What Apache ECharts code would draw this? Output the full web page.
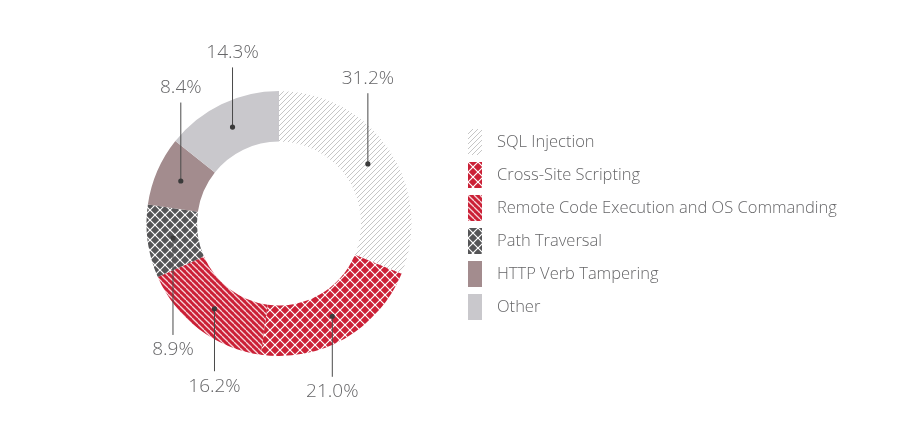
<!DOCTYPE html>
<html>
<head>
<meta charset="utf-8">
<script src="https://cdn.jsdelivr.net/npm/echarts@6/dist/echarts.min.js"></script>
<style>
  html, body { margin: 0; padding: 0; background: #fff; }
  #chart { width: 911px; height: 426px; }
</style>
</head>
<body>
<div id="chart"></div>
<script>
// data
var categories = ['SQL Injection', 'Cross-Site Scripting', 'Remote Code Execution and OS Commanding',
  'Path Traversal', 'HTTP Verb Tampering', 'Other'];
var shares = [31.2, 21.0, 16.2, 8.9, 8.4, 14.3];

// ring geometry (px)
var CX = 279, CY = 223.5, R0 = 82, R1 = 132.5, RM = 107;

// small tiled fills for the hatched slices
function hatch(bg, fg, size, lw, dirs) {
  var c = document.createElement('canvas');
  c.width = c.height = size;
  var ctx = c.getContext('2d');
  ctx.fillStyle = bg;
  ctx.fillRect(0, 0, size, size);
  ctx.strokeStyle = fg;
  ctx.lineWidth = lw;
  dirs.forEach(function (d) {
    [-size, 0, size].forEach(function (o) {
      ctx.beginPath();
      if (d === '/') { ctx.moveTo(o, size); ctx.lineTo(o + size, 0); }
      else { ctx.moveTo(o, 0); ctx.lineTo(o + size, size); }
      ctx.stroke();
    });
  });
  return { image: c, repeat: 'repeat' };
}

var red = '#cb2036';
var fills = [
  hatch('#ffffff', '#c6c6c6', 5, 1, ['/']),
  hatch(red, '#ffffff', 10, 1.2, ['/', '\\']),
  hatch(red, '#f6d3d8', 6, 1.3, ['\\']),
  hatch('#555557', '#ffffff', 10, 1.2, ['/', '\\']),
  '#a38c8e',
  '#c9c8cc'
];

// mid point of every slice, in percent clockwise from 12 o'clock
var total = shares.reduce(function (a, b) { return a + b; }, 0);
var mids = [];
var acc = 0;
shares.forEach(function (v) {
  mids.push((acc + v / 2) / total * 100);
  acc += v;
});

var chart = echarts.init(document.getElementById('chart'));

var labelFont = '300 19px "Open Sans"';

var option = {
  animation: false,
  polar: { center: [CX, CY], radius: R1 },
  angleAxis: {
    type: 'value', min: 0, max: 100, startAngle: 90, clockwise: true,
    show: false, splitLine: { show: false }
  },
  radiusAxis: { type: 'value', min: 0, max: R1, show: false, splitLine: { show: false } },
  legend: {
    orient: 'vertical',
    left: 463,
    top: 124,
    icon: 'rect',
    itemWidth: 14,
    itemHeight: 26,
    itemGap: 7,
    selectedMode: false,
    data: categories,
    textStyle: {
      fontFamily: 'Open Sans',
      fontWeight: 300,
      fontSize: 16.5,
      color: '#666668',
      padding: [0, 0, 0, 10]
    }
  },
  series: [{
    type: 'pie',
    z: 1,
    center: [CX, CY],
    radius: [R0, R1],
    startAngle: 90,
    clockwise: true,
    emphasis: { disabled: true },
    itemStyle: { borderWidth: 0 },
    label: { show: false },
    labelLine: { show: false },
    data: categories.map(function (name, i) {
      return { name: name, value: shares[i], itemStyle: { color: fills[i] } };
    })
  }, {
    // dot + vertical leader + percentage for each slice
    type: 'custom',
    coordinateSystem: 'polar',
    z: 10,
    clip: false,
    silent: true,
    data: mids.map(function (m, i) { return [RM, m, shares[i]]; }),
    renderItem: function (params, api) {
      var cs = params.coordSys;
      var p = api.coord([api.value(0), api.value(1)]);
      var ang = api.value(1) / 100 * 2 * Math.PI;
      var dir = Math.cos(ang) > 0 ? -1 : 1;
      var dx = p[0] - cs.cx;
      var edge = Math.sqrt(Math.max(cs.r * cs.r - dx * dx, 0));
      var endY = cs.cy + dir * (edge + 32);
      return {
        type: 'group',
        children: [{
          type: 'line',
          shape: { x1: p[0], y1: p[1], x2: p[0], y2: endY },
          style: { stroke: '#4a4a4a', lineWidth: 1 }
        }, {
          type: 'circle',
          shape: { cx: p[0], cy: p[1], r: 2.6 },
          style: { fill: '#3a3a3a' }
        }, {
          type: 'text',
          style: {
            text: api.value(2).toFixed(1) + '%',
            x: p[0],
            y: endY + dir * 15,
            align: 'center',
            verticalAlign: 'middle',
            font: labelFont,
            fill: '#666668'
          }
        }]
      };
    }
  }]
};

chart.setOption(option);
</script>
</body>
</html>
